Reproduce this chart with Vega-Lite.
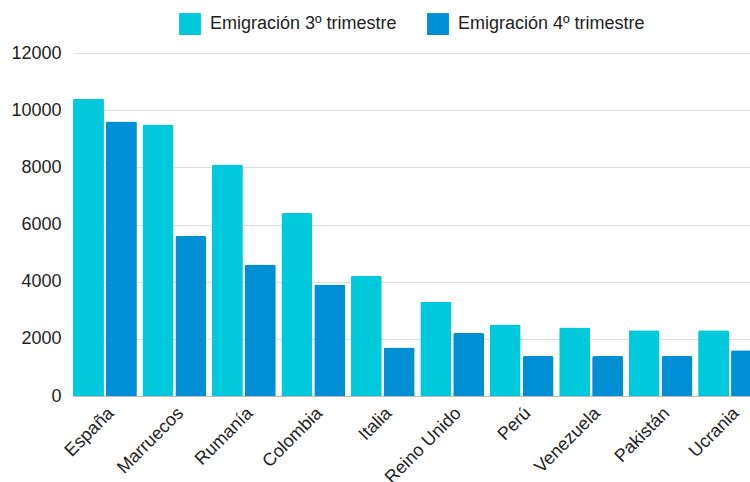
{
  "$schema": "https://vega.github.io/schema/vega-lite/v6.json",
  "autosize": {"type": "none"},
  "width": 677,
  "height": 343,
  "padding": {"left": 73, "top": 53, "right": 0, "bottom": 86},
  "background": "white",
  "config": {
    "view": {"stroke": null},
    "font": "Liberation Sans",
    "legend": {"layout": {"top": {"anchor": "middle"}}}
  },
  "data": {
    "values": [
      {"pais": "España", "serie": "Emigración 3º trimestre", "valor": 10400},
      {"pais": "España", "serie": "Emigración 4º trimestre", "valor": 9600},
      {"pais": "Marruecos", "serie": "Emigración 3º trimestre", "valor": 9500},
      {"pais": "Marruecos", "serie": "Emigración 4º trimestre", "valor": 5600},
      {"pais": "Rumanía", "serie": "Emigración 3º trimestre", "valor": 8100},
      {"pais": "Rumanía", "serie": "Emigración 4º trimestre", "valor": 4600},
      {"pais": "Colombia", "serie": "Emigración 3º trimestre", "valor": 6400},
      {"pais": "Colombia", "serie": "Emigración 4º trimestre", "valor": 3900},
      {"pais": "Italia", "serie": "Emigración 3º trimestre", "valor": 4200},
      {"pais": "Italia", "serie": "Emigración 4º trimestre", "valor": 1700},
      {"pais": "Reino Unido", "serie": "Emigración 3º trimestre", "valor": 3300},
      {"pais": "Reino Unido", "serie": "Emigración 4º trimestre", "valor": 2200},
      {"pais": "Perú", "serie": "Emigración 3º trimestre", "valor": 2500},
      {"pais": "Perú", "serie": "Emigración 4º trimestre", "valor": 1400},
      {"pais": "Venezuela", "serie": "Emigración 3º trimestre", "valor": 2400},
      {"pais": "Venezuela", "serie": "Emigración 4º trimestre", "valor": 1400},
      {"pais": "Pakistán", "serie": "Emigración 3º trimestre", "valor": 2300},
      {"pais": "Pakistán", "serie": "Emigración 4º trimestre", "valor": 1400},
      {"pais": "Ucrania", "serie": "Emigración 3º trimestre", "valor": 2300},
      {"pais": "Ucrania", "serie": "Emigración 4º trimestre", "valor": 1600}
    ]
  },
  "mark": {"type": "bar", "cornerRadiusTopLeft": 2, "cornerRadiusTopRight": 2},
  "encoding": {
    "x": {
      "field": "pais",
      "type": "nominal",
      "sort": null,
      "title": null,
      "scale": {"paddingInner": 0.08, "paddingOuter": 0, "range": [0, 689]},
      "axis": {
        "labelAngle": -45,
        "labelFontSize": 18,
        "labelColor": "#222222",
        "ticks": false,
        "domainColor": "#bbbbbb",
        "labelPadding": 8
      }
    },
    "xOffset": {
      "field": "serie",
      "type": "nominal",
      "scale": {"paddingInner": 0.06}
    },
    "y": {
      "field": "valor",
      "type": "quantitative",
      "title": null,
      "scale": {"domain": [0, 12000], "nice": false},
      "axis": {
        "values": [0, 2000, 4000, 6000, 8000, 10000, 12000],
        "format": "d",
        "labelFontSize": 18,
        "labelColor": "#222222",
        "ticks": false,
        "domain": false,
        "gridColor": "#dddddd",
        "labelPadding": 12
      }
    },
    "color": {
      "field": "serie",
      "type": "nominal",
      "title": null,
      "scale": {"range": ["#00C9DC", "#008FD5"]},
      "legend": {
        "orient": "top",
        "direction": "horizontal",
        "symbolType": "square",
        "symbolSize": 480,
        "symbolStrokeWidth": 0,
        "labelFontSize": 18,
        "labelLimit": 400,
        "labelColor": "#222222",
        "columnPadding": 30,
        "labelOffset": 9,
        "offset": 18
      }
    }
  }
}
